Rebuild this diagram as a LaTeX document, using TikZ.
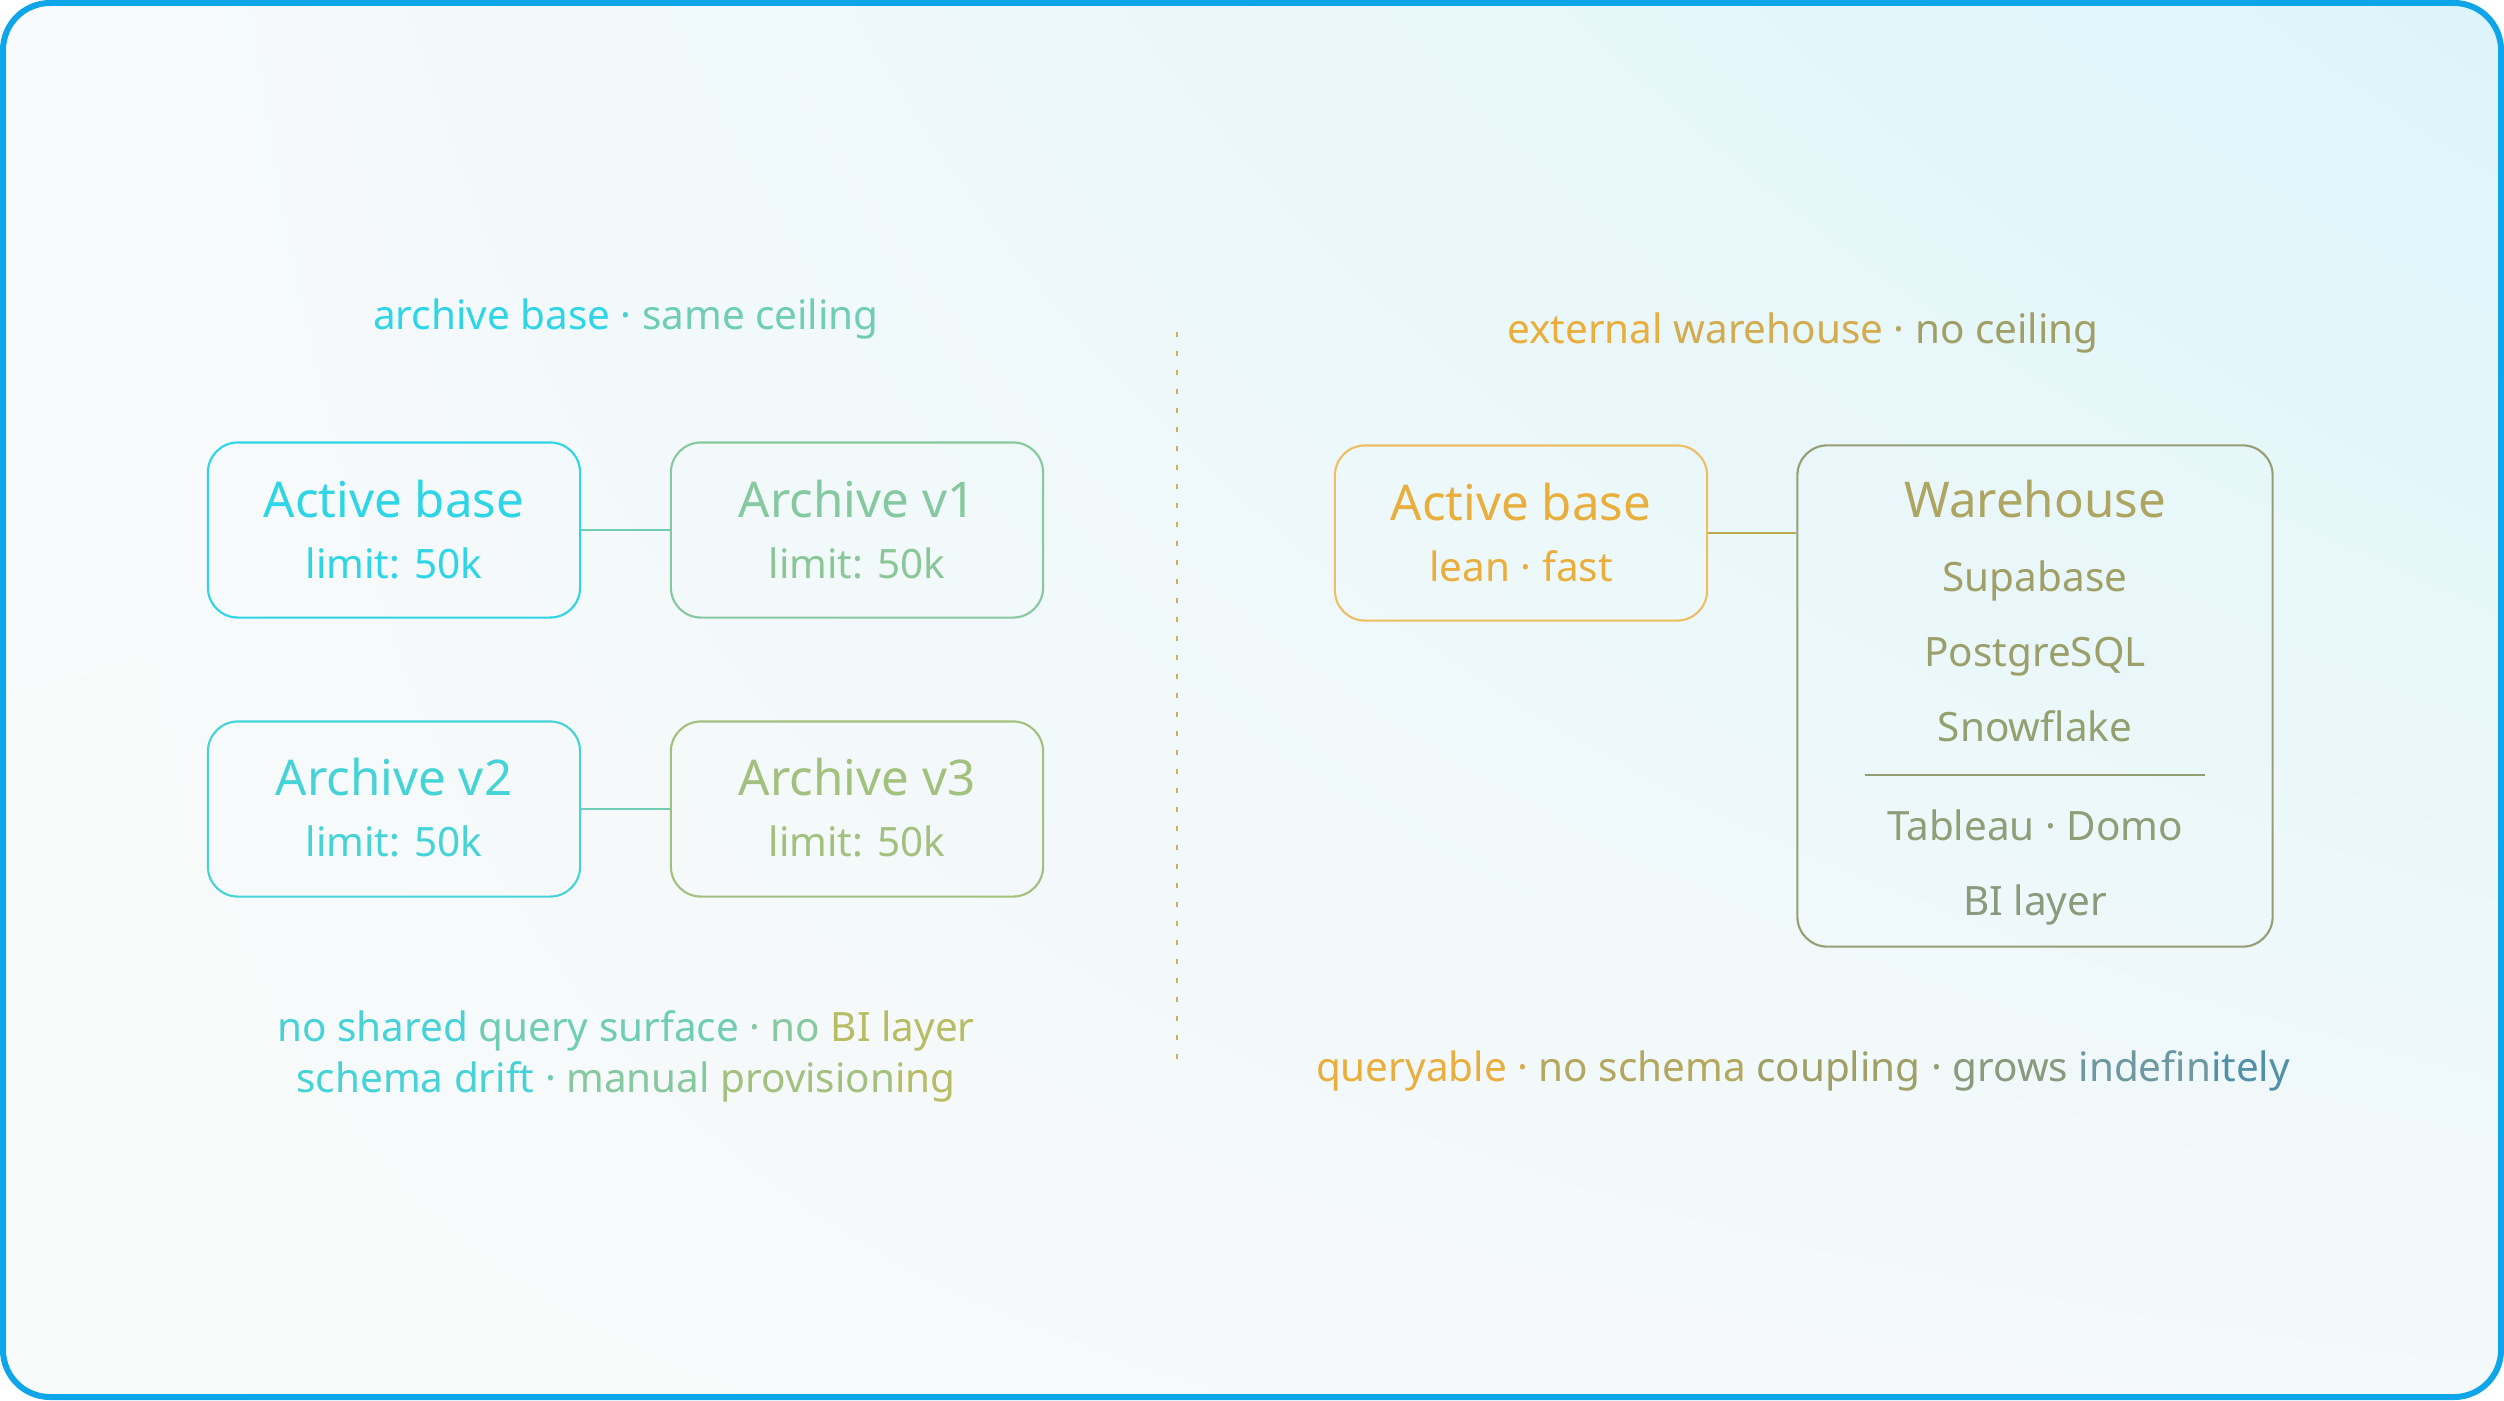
\documentclass[tikz,border=0pt]{standalone}
\usepackage{fontspec}
\setmainfont{Noto Sans}
\usetikzlibrary{shadings}
\definecolor{frameblue}{HTML}{0EA5E9}
\definecolor{bgUL}{HTML}{F8FAFB}
\definecolor{bgUR}{HTML}{DCF5FA}
\definecolor{bgLL}{HTML}{F9FAFA}
\definecolor{bgLR}{HTML}{F4F9FA}
\definecolor{cyA}{HTML}{2DD5E6}
\definecolor{cyB}{HTML}{45D3D8}
\definecolor{mintA}{HTML}{6FCDB6}
\definecolor{mintB}{HTML}{86C8A0}
\definecolor{oliveA}{HTML}{A2C07E}
\definecolor{oliveB}{HTML}{B8BC64}
\definecolor{orA}{HTML}{E9AE3C}
\definecolor{orB}{HTML}{D2AC4E}
\definecolor{khA}{HTML}{B4A75E}
\definecolor{khB}{HTML}{A09F66}
\definecolor{sageA}{HTML}{94A070}
\definecolor{sageB}{HTML}{889B7C}
\definecolor{tealA}{HTML}{6E98A0}
\definecolor{tealB}{HTML}{5090A8}
\tikzset{
  box/.style={draw, rounded corners=0.3cm, line width=0.6pt, minimum width=3.72cm, minimum height=1.75cm, inner sep=0pt},
  ttl/.style={font=\fontsize{14}{16}\selectfont, text height=10pt, text depth=0pt, inner sep=0pt},
  sub/.style={font=\fontsize{11.5}{14}\selectfont, text height=8.2pt, text depth=0pt, inner sep=0pt},
  captxt/.style={font=\fontsize{11.5}{14}\selectfont, text height=8.2pt, text depth=0pt, inner sep=0pt},
  link/.style={line width=0.6pt}
}
\begin{document}
\begin{tikzpicture}[x=0.01cm, y=-0.01cm]
    \useasboundingbox (0,0) rectangle (2504,1400);
    \shade[upper left=bgUL, upper right=bgUR, lower left=bgLL, lower right=bgLR, rounded corners=0.47cm] (3,3) rectangle (2501,1397);
    \draw[frameblue, line width=0.06cm, rounded corners=0.47cm] (3,3) rectangle (2501,1397);
    % left: archive bases
    \node[captxt] (capl) at (626,315) {\color{cyA}archive base \color{cyB}· \color{mintA}same ceiling};
    \node[box, draw=cyA] (ab1) at (394,530) {};
    \node[box, draw=mintB] (av1) at (857,530) {};
    \node[box, draw=cyB] (av2) at (394,809) {};
    \node[box, draw=oliveA] (av3) at (857,809) {};
    \node[ttl, cyA] (ab1t) at (394,500) {Active base};
    \node[sub, cyA] (ab1s) at (394,564) {limit: 50k};
    \node[ttl, mintB] (av1t) at (857,500) {Archive v1};
    \node[sub, mintB!80!oliveA] (av1s) at (857,564) {limit: 50k};
    \node[ttl, cyB] (av2t) at (394,778) {Archive v2};
    \node[sub, cyB] (av2s) at (394,842) {limit: 50k};
    \node[ttl, oliveA] (av3t) at (857,778) {Archive v3};
    \node[sub, oliveA] (av3s) at (857,842) {limit: 50k};
    \draw[link, mintA]  (ab1) -- (av1);
    \draw[link, mintA]  (av2) -- (av3);
    \node[captxt] (notel1) at (626,1027) {\color{cyB}no shared \color{mintA}query surface \color{mintB}· no \color{oliveB}BI layer};
    \node[captxt] (notel2) at (626,1078) {\color{cyB}schema drift \color{mintA}· \color{mintB}manual \color{oliveA}provision\color{oliveB}ing};
    % divider
    \coordinate (d1) at (1177,332);
    \coordinate (d2) at (1177,1059);
    \draw[color=orB!70!oliveB, line width=0.6pt, dash pattern=on 1.4pt off 4pt] (d1) -- (d2);
    % right: warehouse
    \node[captxt] (capr) at (1803,329) {\color{orA}external \color{orB}warehouse \color{khA}· \color{khB}no ceiling};
    \node[box, draw=orA!80!white] (ab2) at (1521,533) {};
    \node[ttl, orA] (ab2t) at (1521,503) {Active base};
    \node[sub, orA] (ab2s) at (1521,567) {lean · fast};
    \node[box, draw=khB!80!tealA, minimum width=4.75cm, minimum height=5.01cm] (wh) at (2035,696) {};
    \node[ttl, khA!70!khB] (wht) at (2035,500) {Warehouse};
    \node[sub, khB] (wh1) at (2035,577) {Supabase};
    \node[sub, khB!60!sageA] (wh2) at (2035,652) {PostgreSQL};
    \node[sub, sageA] (wh3) at (2035,727) {Snowflake};
    \draw[sageA!80!sageB, line width=0.5pt] (1865,775) -- (2205,775);
    \node[sub, sageA!50!sageB] (wh4) at (2035,826) {Tableau · Domo};
    \node[sub, sageB] (wh5) at (2035,901) {BI layer};
    \draw[link, khA!80!orA]  (ab2.east) -- (ab2.east -| wh.west);
    \node[captxt] (noter) at (1803,1067) {\color{orA}queryable \color{orB}· \color{khA}no schema \color{khB}coupling \color{sageA}· \color{sageB}grows \color{tealA}indefin\color{tealB}itely};
\end{tikzpicture}
\end{document}
